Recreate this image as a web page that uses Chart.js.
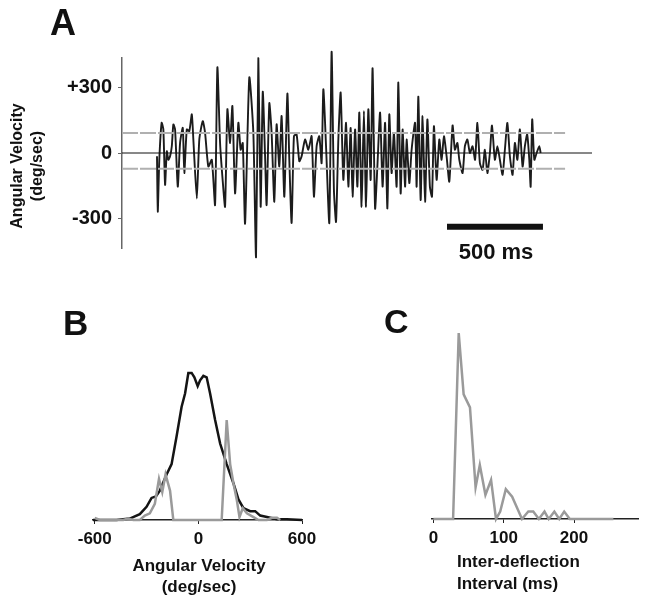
<!DOCTYPE html>
<html>
<head>
    <title>Angular velocity figure</title>
    <style>
        body { margin: 0; background: #fff; font-family: Arial, "Liberation Sans", sans-serif; }
        #page { position: relative; width: 647px; height: 600px; overflow: hidden; }
        .panel, .txt { position: absolute; }
        .txt { font-weight: bold; color: #111; white-space: nowrap; }
        .letter { line-height: 1; }
    </style>
</head>
<body>
<div id="page">
    <div class="panel" style="left:0;top:0;"><canvas id="chartA" width="647" height="290"></canvas></div>
    <div class="panel" style="left:0;top:290px;"><canvas id="chartB" width="330" height="310"></canvas></div>
    <div class="panel" style="left:330px;top:290px;"><canvas id="chartC" width="317" height="310"></canvas></div>

    <div class="txt letter" style="left:50px;top:5px;font-size:36px;">A</div>
    <div class="txt letter" style="left:63px;top:305px;font-size:35px;">B</div>
    <div class="txt letter" style="left:384px;top:304px;font-size:34px;">C</div>

    <!-- y title of panel A, rotated -->
    <div class="txt" style="left:-73px;top:146px;width:200px;height:40px;line-height:20px;font-size:16px;text-align:center;transform:rotate(-90deg);">Angular Velocity<br>(deg/sec)</div>
    <div class="txt" style="left:446px;top:241px;width:100px;text-align:center;font-size:22px;line-height:22px;">500 ms</div>

    <div class="txt" style="left:99px;top:555px;width:200px;text-align:center;font-size:17px;line-height:21px;">Angular Velocity<br>(deg/sec)</div>
    <div class="txt" style="left:457px;top:551px;font-size:17px;line-height:22px;">Inter-deflection<br>Interval (ms)</div>
</div>

<script src="https://cdn.jsdelivr.net/npm/chart.js"></script>
<script>
    // ---- data ----
    // A: head angular velocity trace (time in ms from trace start, deg/sec)
    const traceTimes = [0,4,12,24,33,42,51,59,68,77,85,94,108,120,134,142,155,168,181,189,
        207,220,238,250,267,285,302,314,328,342,354,366,380,392,406,423,435,446,458,480,
        501,515,527,539,550,562,570,584,596,610,622,636,648,662,678,688,700,712,726,740,
        752,770,787,804,816,830,844,856,865,879,896,
        908,920,931,943,955,969,983,995,1007,1017,1030,1042,1052,1064,1076,1087,1099,1111,1121,1134,
        1146,1160,1173,1186,1198,1208,1220,1232,1246,1255,1267,1277,1290,1298,1312,1324,1342,1350,1359,1371,
        1381,1394,1406,1419,1430,1440,1454,1468,1480,1492,1506,1520,1537,1549,1562,1572,1589,1601,1614,1627,
        1641,1654,1666,1679,1693,1705,1718,1731,1742,1757,1770,1783,1797,1809,1822,1835,1849,1861,1874,1887,
        1901,1913,1925,1936,1943,1951,1962,1974,1988,1995];
    const traceVel = [-15,-269,-31,138,108,-146,8,-31,-15,31,131,108,-154,46,115,-92,108,100,177,62,
        -208,62,146,92,-62,-31,-238,392,46,-131,-246,200,46,215,-185,138,15,46,-323,346,
        92,-477,434,-246,280,-15,-238,228,92,-223,131,-62,169,-200,272,-31,-320,77,85,-38,
        -15,62,15,77,-200,31,77,-46,292,31,-320,
        464,-169,-315,62,277,-123,138,-154,115,-200,108,-154,185,-246,192,-246,200,-123,388,-254,
        -62,185,-154,138,-254,177,-92,92,-154,323,-185,108,-154,62,-138,15,138,-154,258,-215,
        169,-223,154,-154,-200,123,-123,62,-31,77,-15,-131,126,15,46,-31,-92,31,62,0,
        31,-31,138,-46,-77,15,-92,0,126,-31,31,-31,-100,15,138,-15,-100,46,-31,108,
        -62,31,85,-31,-154,154,-31,0,31,0];
    const thresholds = [92, -72];          // deg/sec
    const scaleBarMs = [1508, 2007];       // 500 ms bar
    const scaleBarLevel = -338;
    const aTicks = [-300, 0, 300];

    // B: velocity distributions (arbitrary counts)
    const bVelBlack = [-610,-474,-397,-339,-300,-271,-246,-223,-184,-155,-126,-97,-77,-58,-39,-23,-4,10,29,48,
        68,97,126,164,203,232,261,300,329,358,397,455,513,600];
    const bCountBlack = [0,0,1,4,9,15,16,20,31,38,57,77,86,100,100,97,91,95,98,97,
        86,68,52,38,25,14,8,6,6,3,2,0.5,0.5,0];
    const bVelGray = [-600,-571,-435,-406,-377,-339,-310,-281,-252,-228,-209,-190,-164,-145,135,164,184,203,222,238,
        257,281,319,348,397,426,455,474];
    const bCountGray = [1.5,0,0,1,0,0,3,4.5,11,28,19,31,20,0,0,68,38,25,14,2,
        8,4.5,2,0,0,1.5,1.5,0];
    const bTicks = [-600, 0, 600];

    // C: inter-deflection interval distribution
    const cInterval = [0,28,36,43,52,60,66,74,82,89,95,103,112,126,135,142,150,158,164,172,179,186,194,256];
    const cCount = [0,0,100,67,60,17,29,13,21,0,4,16,12,0,4,4,0,4,0,4,0,4,0,0];
    const cTicks = [0, 100, 200];

    // ---- helpers ----
    const pts = (xs, ys) => xs.map((x, i) => ({ x: x, y: ys[i] }));
    const hline = (x0, x1, y) => [{ x: x0, y: y }, { x: x1, y: y }];
    const tickFont = size => ({ family: 'Arial, "Liberation Sans", sans-serif', size: size, weight: 'bold' });

    Chart.defaults.animation = false;
    Chart.defaults.responsive = false;
    Chart.defaults.plugins.legend.display = false;
    Chart.defaults.plugins.tooltip.enabled = false;
    Chart.defaults.elements.point.radius = 0;
    Chart.defaults.elements.line.tension = 0;

    // ---- panel A ----
    const aMin = -182, aMax = 2262;
    new Chart(document.getElementById('chartA'), {
        type: 'line',
        data: {
            datasets: [
                { data: hline(aMin, 2122, thresholds[0]), borderColor: '#b0b0b0', borderWidth: 2, borderDash: [16, 2] },
                { data: hline(aMin, 2122, thresholds[1]), borderColor: '#b0b0b0', borderWidth: 2, borderDash: [16, 2] },
                { data: hline(aMin, aMax, 0), borderColor: '#111', borderWidth: 1 },
                { data: pts(traceTimes, traceVel), borderColor: '#1c1c1c', borderWidth: 1.9, tension: 0.2, clip: false },
                { data: hline(scaleBarMs[0], scaleBarMs[1], scaleBarLevel), borderColor: '#111', borderWidth: 6, clip: false }
            ]
        },
        options: {
            layout: { padding: { left: 0, top: 58, right: 55, bottom: 42 } },
            scales: {
                x: { type: 'linear', display: false, min: aMin, max: aMax },
                y: {
                    min: -435, max: 435,
                    afterFit: s => { s.width = 122; },
                    afterBuildTicks: s => { s.ticks = aTicks.map(v => ({ value: v })); },
                    ticks: {
                        font: tickFont(20), color: '#111', padding: 6,
                        callback: v => v > 0 ? '+' + v : v
                    },
                    grid: { drawOnChartArea: false, tickLength: 4, color: '#666' },
                    border: { color: '#666', width: 1.5 }
                }
            }
        }
    });

    // ---- panel B ----
    new Chart(document.getElementById('chartB'), {
        type: 'line',
        data: {
            datasets: [
                { data: pts(bVelGray, bCountGray), borderColor: '#9a9a9a', borderWidth: 2.5, clip: false },
                { data: pts(bVelBlack, bCountBlack), borderColor: '#141414', borderWidth: 2.5, clip: false }
            ]
        },
        options: {
            layout: { padding: { left: 93, right: 28, top: 80, bottom: 0 } },
            scales: {
                x: {
                    type: 'linear', min: -610, max: 600,
                    afterFit: s => { s.height = 80; },
                    afterBuildTicks: s => { s.ticks = bTicks.map(v => ({ value: v })); },
                    ticks: { font: tickFont(17), color: '#111', padding: 5, maxRotation: 0 },
                    grid: { drawOnChartArea: false, tickLength: 4, color: '#222' },
                    border: { color: '#222', width: 1.5 }
                },
                y: { display: false, min: 0, max: 102 }
            }
        }
    });

    // ---- panel C ----
    new Chart(document.getElementById('chartC'), {
        type: 'line',
        data: {
            datasets: [
                { data: pts(cInterval, cCount), borderColor: '#9a9a9a', borderWidth: 2.5, clip: false }
            ]
        },
        options: {
            layout: { padding: { left: 102, right: 9, top: 40, bottom: 0 } },
            scales: {
                x: {
                    type: 'linear', min: -2, max: 291,
                    afterFit: s => { s.height = 81; },
                    afterBuildTicks: s => { s.ticks = cTicks.map(v => ({ value: v })); },
                    ticks: { font: tickFont(17), color: '#111', padding: 5, maxRotation: 0 },
                    grid: { drawOnChartArea: false, tickLength: 4, color: '#222' },
                    border: { color: '#222', width: 1.5 }
                },
                y: { display: false, min: 0, max: 101.6 }
            }
        }
    });
</script>
</body>
</html>
